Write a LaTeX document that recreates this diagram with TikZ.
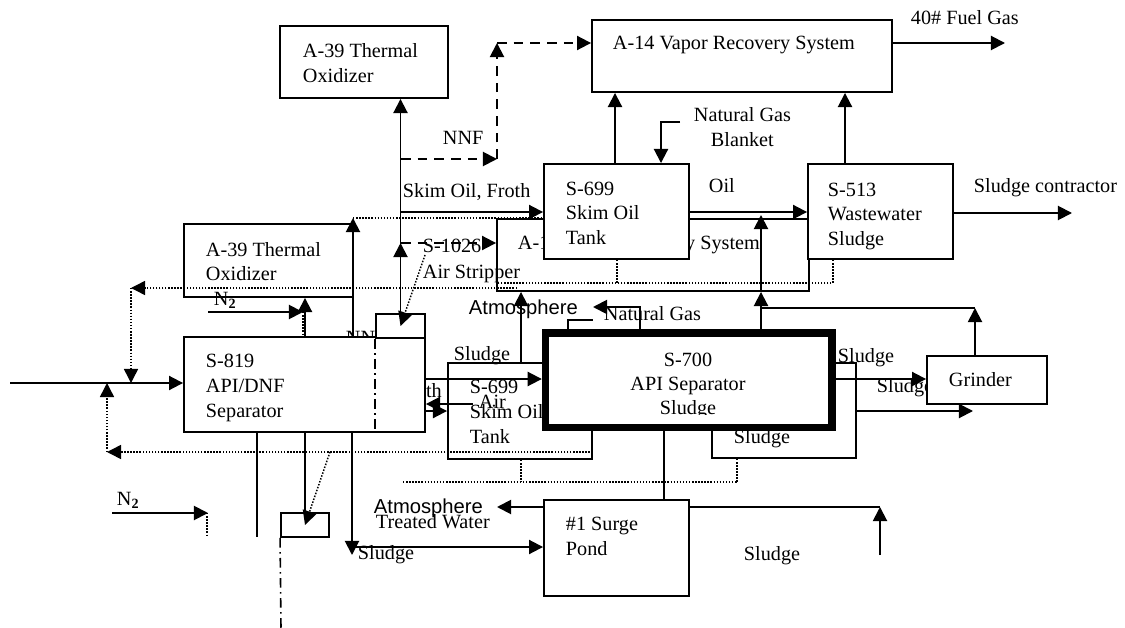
\documentclass[tikz,border=0pt]{standalone}
\usepackage{fontspec}
\setmainfont{Liberation Serif}
\newfontfamily\atmfont{Liberation Sans}
\usetikzlibrary{arrows.meta}

\begin{document}
\begin{tikzpicture}[x=0.02cm,y=-0.02cm,line width=1.1pt,
  font=\fontsize{11.5}{14}\selectfont,
  >={Triangle[length=8pt,width=8pt]},
  box/.style={draw,fill=white,inner sep=0pt},
  heavybox/.style={box,line width=4.25pt},
  lbl/.style={anchor=base west,inner sep=0pt},
  clbl/.style={anchor=base,inner sep=0pt},
  dots/.style={line width=0.85pt,dash pattern=on 0.85pt off 0.9pt},
  dashes/.style={dash pattern=on 5.5pt off 4pt},
  dashdot/.style={line width=0.9pt,dash pattern=on 5.5pt off 2.5pt on 0.9pt off 2.5pt}]
  \useasboundingbox (0,0) rectangle (1125,628);

  \node[box,minimum width=6.24cm,minimum height=1.44cm] (a14mid) at (653,255) {};
  \node[lbl] (a14mid-l1) at (517,249) {A-14 Vapor Recovery System};
  \node[box,minimum width=2.9cm,minimum height=1.9cm] (s699top) at (616.5,211.5) {};
  \foreach \t [count=\i] in {S-699,Skim Oil,Tank}
    \node[lbl] (s699top-l\i) at (565,{195+24.5*(\i-1)}) {\t};
  \node[box,minimum width=2.9cm,minimum height=1.9cm] (s513) at (880.5,211.5) {};
  \foreach \t [count=\i] in {S-513,Wastewater,Sludge}
    \node[lbl] (s513-l\i) at (827,{196+24.5*(\i-1)}) {\t};

  \node[box,minimum width=3.36cm,minimum height=1.44cm] (a39top) at (364,62) {};
  \foreach \t [count=\i] in {A-39 Thermal,Oxidizer}
    \node[lbl] (a39top-l\i) at (302,{58+24.5*(\i-1)}) {\t};
  \node[box,minimum width=6cm,minimum height=1.44cm] (a14top) at (742,56) {};
  \node[lbl] (a14top-l1) at (612,50) {A-14 Vapor Recovery System};

  \node[box,minimum width=3.38cm,minimum height=1.46cm] (a39mid) at (268.5,260.5) {};
  \foreach \t [count=\i] in {A-39 Thermal,Oxidizer}
    \node[lbl] (a39mid-l\i) at (205,{256+24.5*(\i-1)}) {\t};

  \node[lbl] (nnfhid) at (345,344) {NNF};
  \node[lbl] (froth) at (397,397) {Froth};
  \node[box,minimum width=4.82cm,minimum height=1.9cm] (s819) at (304.5,384.5) {};
  \foreach \t [count=\i] in {S-819,API/DNF,Separator}
    \node[lbl] (s819-l\i) at (205,{367+25*(\i-1)}) {\t};
  \node[box,minimum width=0.98cm,minimum height=0.48cm] (vtop) at (400.5,326) {};

  \node[box,minimum width=2.88cm,minimum height=1.92cm] (s699low) at (520,411) {};
  \node[lbl] (air) at (478,408) {Air};
  \foreach \t [count=\i] in {S-699,Skim Oil,Tank}
    \node[lbl] (s699low-l\i) at (469,{393+25*(\i-1)}) {\t};
  \node[box,minimum width=2.88cm,minimum height=1.9cm] (sludgebox) at (784,410.5) {};
  \node[lbl] (sludgebox-l1) at (733,443) {Sludge};

  \node[heavybox,minimum width=5.73cm,minimum height=1.89cm] (s700) at (688.75,380.25) {};
  \foreach \t [count=\i] in {S-700,API Separator,Sludge}
    \node[clbl] (s700-l\i) at (688,{366+24*(\i-1)}) {\t};
  \fill[white] (551,415) rectangle (826,423);

  \node[lbl] (sludgeg) at (876,392) {Sludge};
  \node[box,minimum width=2.4cm,minimum height=0.96cm] (grinder) at (987,380) {};
  \node[lbl] (grinder-l1) at (948,386) {Grinder};

  \node[box,minimum width=0.96cm,minimum height=0.48cm] (vbot) at (305,525) {};
  \node[box,minimum width=2.9cm,minimum height=1.92cm] (pond) at (616.5,548) {};
  \foreach \t [count=\i] in {\#1 Surge,Pond}
    \node[lbl] (pond-l\i) at (565,{530+25*(\i-1)}) {\t};

  \node[lbl] (fuel) at (910,25) {40\# Fuel Gas};
  \node[lbl] (nnf) at (442,145) {NNF};
  \node[lbl] (blanket-l1) at (693,122) {Natural Gas};
  \node[lbl] (blanket-l2) at (710,147) {Blanket};
  \node[lbl] (skim) at (402,197) {Skim Oil, Froth};
  \node[lbl] (oil) at (708,193) {Oil};
  \node[lbl] (contr) at (973,193) {Sludge contractor};
  \node[lbl] (strip-l1) at (422,253) {S-1026};
  \node[lbl] (strip-l2) at (422,278) {Air Stripper};
  \node[lbl] (ntop) at (213,305) {N\textsubscript{\textbf{2}}};
  \node[lbl,font=\atmfont\fontsize{11.5}{14}\selectfont] (atm1) at (468,314) {Atmosphere};
  \node[lbl] (natgas) at (603,320) {Natural Gas};
  \node[lbl] (sludge1) at (453,360) {Sludge};
  \node[lbl] (sludge2) at (837,362) {Sludge};
  \node[lbl,font=\atmfont\fontsize{11.5}{14}\selectfont] (atm2) at (373,513) {Atmosphere};
  \node[lbl] (treated) at (375,528) {Treated Water};
  \node[lbl] (sludge3) at (357,559) {Sludge};
  \node[lbl] (nbot) at (116,505) {N\textsubscript{\textbf{2}}};
  \node[lbl] (sludge4) at (743,560) {Sludge};

  \coordinate (jnnf) at (401,159);
  \coordinate (jbend) at (497,159);
  \coordinate (jtop) at (497,43);
  \coordinate (jskim) at (401,212);
  \coordinate (jair) at (401,243);
  \coordinate (jdiag) at (425,255);
  \coordinate (jfuel) at (1005,43);
  \coordinate (jcontr) at (1072,213);
  \coordinate (jblank) at (680,122);
  \coordinate (joil) at (761,215);
  \coordinate (jgrind) at (975,308);
  \coordinate (jatm) at (593,307);
  \coordinate (jgas) at (593,320);
  \coordinate (jairin) at (473,404);
  \coordinate (jout) at (973,411);
  \coordinate (jfeed) at (10,383);
  \coordinate (jdl) at (107,452);
  \coordinate (jdu) at (131,288);
  \coordinate (jn2a) at (208,312);
  \coordinate (jn2b) at (112,513);
  \coordinate (jsl) at (352,547);
  \coordinate (jsd) at (330,452);
  \coordinate (jatm2) at (497,507);
  \coordinate (jpond) at (880,507);

  \draw[->] (vtop.north) -- (vtop.north |- a39top.south);
  \draw[->] (vtop.north) -- (vtop.north |- jair);
  \draw[->,dashes] (jnnf) -- (jbend);
  \draw[->,dashes] (jbend) -- (jtop);
  \draw[->,dashes] (jtop) -- (jtop -| a14top.west);
  \draw[->] (jskim) -- (jskim -| s699top.west);
  \draw[->,dashes] (jair) -- (jair -| a14mid.west);
  \draw[->,dots] (jdiag) -- (vtop.center);
  \draw[->] (s699top.north -| 615,0) -- (a14top.south -| 615,0);
  \draw[->] (s513.north -| 845,0) -- (a14top.south -| 845,0);
  \draw[->] (jblank) -| (s699top.north -| 661,0);
  \draw[->] (a14top.east |- jfuel) -- (jfuel);
  \draw[->] (s699top.east |- jskim) -- (s513.west |- jskim);
  \draw[->] (s513.east |- jcontr) -- (jcontr);
  \draw[->] (a14mid.south -| joil) -- (joil);
  \draw[->] (grinder.north -| jgrind) -- (jgrind);
  \draw (jgrind) -- (jgrind -| joil);
  \draw[->] (s700.north -| joil) -- (a14mid.south -| joil);
  \draw[->] (s699low.north -| 521,0) -- (a14mid.south -| 521,0);
  \draw[->] (s700.north -| 640,0) |- (jatm);
  \draw (s700.north -| 568,0) |- (jgas);
  \draw[->] (s819.east |- 0,379) -- (s700.west |- 0,379);
  \draw[->] (jairin) -- (s819.east |- jairin);
  \draw[->] (s819.east |- 0,411) -- (s699low.west |- 0,411);
  \draw[->] (s700.east |- 0,379) -- (grinder.west |- 0,379);
  \draw[->] (sludgebox.east |- jout) -- (jout);
  \draw[->] (jfeed) -- (s819.west |- jfeed);
  \draw[->,dots] (s699low.east |- jdl) -- (jdl);
  \draw[->,dots] (jdl) -- (jdl |- jfeed);
  \draw[->,dots] (517,288) -- (jdu);
  \draw[->,dots] (jdu) -- (jdu |- jfeed);
  \draw[->] (jn2a) -- ++(95,0);
  \draw[dots] (303,312) -- (s819.north -| 303,0);
  \draw[->] (s819.north -| 305,0) -- (a39mid.south -| 305,0);
  \draw[->] (s819.north -| 353,0) -- (353,218);
  \draw[dots] (353,218) -- (s699top.west |- 0,218);
  \draw[dots] (s513.south -| 833,0) |- (a14mid.west |- 0,283);
  \draw[dots] (s699top.south -| 617,0) -- (617,283);
  \draw (s819.south -| 257,0) -- (257,537);
  \draw (s819.south -| vbot.north) -- (vbot.north);
  \draw[->] (s819.south -| jsl) -- (352,555);
  \draw[->] (jsl) -- (pond.west |- jsl);
  \draw[->,dots] (jsd) -- (vbot.center);
  \draw[dashdot] (vbot.south west) -- (281,628);
  \draw[dashdot] (vtop.south west) -- (s819.south -| vtop.south west);
  \draw[->] (jn2b) -- ++(96,0);
  \draw[dots] (207,513) -- (207,537);
  \draw[->] (pond.west |- jatm2) -- (jatm2);
  \draw (s700.south -| 664,0) -- (pond.north -| 664,0);
  \draw (pond.east |- jpond) -- (jpond);
  \draw[->] (880,555) -- (jpond);
  \draw[dots] (403,482) -- (737,482);
  \draw[dots] (s699low.south -| 521,0) -- (521,482);
  \draw[dots] (sludgebox.south -| 737,0) -- (737,482);
\end{tikzpicture}
\end{document}
